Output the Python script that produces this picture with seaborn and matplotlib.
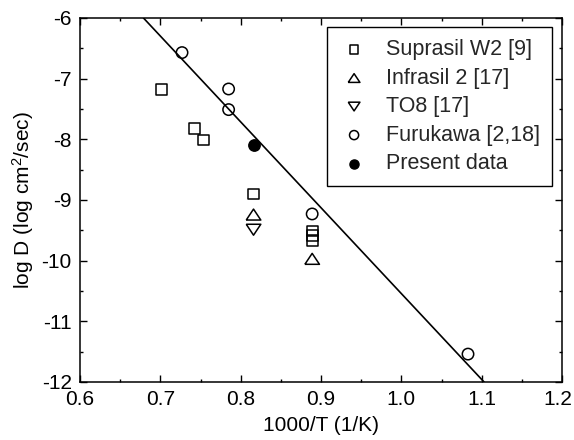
import matplotlib
matplotlib.use("Agg")
import matplotlib.pyplot as plt
import matplotlib.transforms as mtransforms
import seaborn as sns
import numpy as np
from matplotlib.ticker import MultipleLocator

# ---- data ----
suprasil_x = [0.701, 0.743, 0.754, 0.816, 0.889, 0.889, 0.889]
suprasil_y = [-7.18, -7.82, -8.01, -8.90, -9.51, -9.59, -9.67]
infrasil_x = [0.816, 0.889]
infrasil_y = [-9.24, -9.97]
to8_x = [0.816]
to8_y = [-9.49]
furukawa_x = [0.727, 0.785, 0.785, 0.889, 1.083]
furukawa_y = [-6.57, -7.17, -7.51, -9.23, -11.54]
present_x = [0.816]
present_y = [-8.10]
fit_x = [0.679, 1.103]
fit_y = [-6.0, -12.0]

labels = ["Suprasil W2 [9]", "Infrasil 2 [17]", "TO8 [17]",
          "Furukawa [2,18]", "Present data"]
xtick_labels = ["0.6", "0.7", "0.8", "0.9", "1.0", "1.1", "1.2"]
ytick_labels = ["-12", "-11", "-10", "-9", "-8", "-7", "-6"]

sns.set_theme(style="ticks")
plt.rcParams["font.family"] = ["Liberation Sans", "DejaVu Sans"]
plt.rcParams["axes.unicode_minus"] = False
plt.rcParams["mathtext.fontset"] = "custom"
plt.rcParams["mathtext.rm"] = "Liberation Sans"
plt.rcParams["mathtext.it"] = "Liberation Sans:italic"

fig = plt.figure(figsize=(5.74, 4.40), dpi=100)
ax = fig.add_axes([80/574, 1-382/440, 482/574, 364/440])

tri_up = [(-1, -0.75), (1, -0.75), (0, 0.75), (-1, -0.75)]
tri_dn = [(-1, 0.75), (1, 0.75), (0, -0.75), (-1, 0.75)]

sns.lineplot(x=fit_x, y=fit_y, ax=ax, color="black", linewidth=1.2, legend=False)

common = dict(facecolor="none", edgecolor="black", linewidth=1.1, ax=ax)
sns.scatterplot(x=suprasil_x, y=suprasil_y, marker="s", s=7.8**2, label=labels[0], **common)
sns.scatterplot(x=infrasil_x, y=infrasil_y, marker=tri_up, s=10.5**2, label=labels[1], **common)
sns.scatterplot(x=to8_x, y=to8_y, marker=tri_dn, s=10.5**2, label=labels[2], **common)
sns.scatterplot(x=furukawa_x, y=furukawa_y, marker="o", s=8.2**2, label=labels[3], **common)
sns.scatterplot(x=present_x, y=present_y, marker="o", s=8.2**2, color="black",
                edgecolor="black", linewidth=1.0, label=labels[4], ax=ax)

ax.set_xlim(0.6, 1.2)
ax.set_ylim(-12, -6)
ax.xaxis.set_minor_locator(MultipleLocator(0.05))
ax.yaxis.set_minor_locator(MultipleLocator(0.5))
ax.set_xticks([0.6, 0.7, 0.8, 0.9, 1.0, 1.1, 1.2])
ax.set_xticklabels(xtick_labels)
ax.set_yticks([-12, -11, -10, -9, -8, -7, -6])
ax.set_yticklabels(ytick_labels)

ax.tick_params(which="both", direction="in", top=True, right=True, colors="black",
               labelsize=15, width=1.0)
ax.tick_params(which="major", length=5, pad=6)
ax.tick_params(which="minor", length=2.5)
for sp in ax.spines.values():
    sp.set_visible(True)
    sp.set_color("black")
    sp.set_linewidth(1.1)

# nudge last x tick label slightly left so it stays inside the figure
last = ax.get_xticklabels()[-1]
last.set_transform(last.get_transform() +
                   mtransforms.ScaledTranslation(-4/100, 0, fig.dpi_scale_trans))

ax.set_xlabel("1000/T (1/K)", fontsize=15, color="black", labelpad=5)
ax.set_ylabel("log D (log cm$^2$/sec)", fontsize=15, color="black", labelpad=4)

leg = ax.legend(loc="upper right", bbox_to_anchor=((552-80)/482, (382-27.3)/364),
                borderaxespad=0,
                prop={"size": 15.5}, frameon=True, fancybox=False, shadow=False,
                markerscale=0.8, scatterpoints=1, handlelength=1.4,
                handletextpad=0.79, labelspacing=0.35, borderpad=0.55)
leg.get_frame().set_edgecolor("black")
leg.get_frame().set_linewidth(1.0)
leg.get_frame().set_alpha(1)

fig.savefig("out.png", dpi=100)
